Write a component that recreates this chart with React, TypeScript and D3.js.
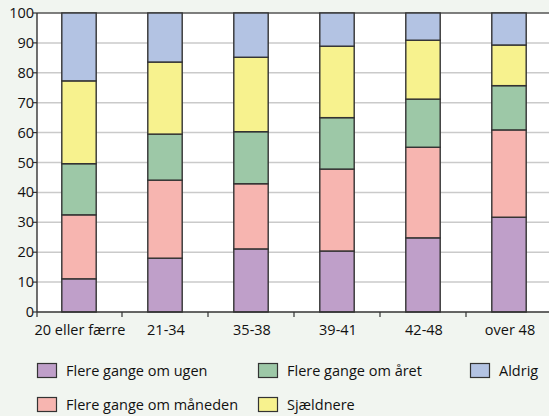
import React from "react";
import * as d3 from "d3";

const categories = ["20 eller færre", "21-34", "35-38", "39-41", "42-48", "over 48"];
const seriesNames = ["Flere gange om ugen", "Flere gange om måneden", "Flere gange om året", "Sjældnere", "Aldrig"];
const ugen = [11.1, 18.0, 21.1, 20.4, 24.8, 31.7];
const maaneden = [21.4, 26.1, 21.8, 27.4, 30.3, 29.2];
const aaret = [17.1, 15.4, 17.4, 17.2, 16.1, 14.8];
const sjaeldnere = [27.7, 24.1, 24.9, 23.9, 19.7, 13.6];
const aldrig = [22.7, 16.4, 14.8, 11.1, 9.1, 10.7];
const yTicks = [0, 10, 20, 30, 40, 50, 60, 70, 80, 90, 100];
const colors = ["#bf9fc9", "#f7b5b0", "#9dc8a7", "#f7f28e", "#b3c3e3"];

const W = 549;
const H = 416;
const left = 37;
const top = 13;
const bottom = 312;
const FONT = "'Open Sans', 'Noto Sans', sans-serif";

export default function App() {
  const rows = categories.map((c, i) => ({
    cat: c,
    s0: ugen[i],
    s1: maaneden[i],
    s2: aaret[i],
    s3: sjaeldnere[i],
    s4: aldrig[i],
  }));
  const keys = ["s0", "s1", "s2", "s3", "s4"];
  const stacked = d3.stack<any>().keys(keys)(rows);
  const x = d3.scaleBand().domain(categories).range([36, 552]).paddingInner(0.6).paddingOuter(0.3);
  const y = d3.scaleLinear().domain([0, 100]).range([bottom, top]);
  const step = x.step();
  const boundaries = categories.slice(1).map((c) => (x(c) as number) - x.paddingInner() * step / 2);

  const legendItems = [
    { name: seriesNames[0], color: colors[0], lx: 37, ly: 363 },
    { name: seriesNames[2], color: colors[2], lx: 258, ly: 363 },
    { name: seriesNames[4], color: colors[4], lx: 470, ly: 363 },
    { name: seriesNames[1], color: colors[1], lx: 37, ly: 397 },
    { name: seriesNames[3], color: colors[3], lx: 258, ly: 397 },
  ];

  return (
    <svg width={W} height={H} style={{ position: "absolute", left: 0, top: 0 }} fontFamily={FONT}>
      <rect x={0} y={0} width={W} height={H} fill="#f1f5f0" />
      <rect x={left} y={top} width={W - left} height={bottom - top} fill="#ffffff" />
      {yTicks.map((t) => (
        <g key={t}>
          {t > 0 && t < 100 && (
            <line x1={left} x2={W} y1={y(t)} y2={y(t)} stroke="#cacaca" strokeWidth={1.5} />
          )}
          <line x1={left - 4} x2={left} y1={y(t)} y2={y(t)} stroke="#333" strokeWidth={1.2} />
          <text x={34} y={y(t)} dy="0.35em" textAnchor="end" fontSize={14.5} fill="#111">
            {t}
          </text>
        </g>
      ))}
      <line x1={left} x2={W} y1={top} y2={top} stroke="#555" strokeWidth={1.3} />
      {stacked.map((s, si) =>
        s.map((d, i) => (
          <rect
            key={si + "-" + i}
            x={x(categories[i]) as number}
            y={y(d[1])}
            width={x.bandwidth()}
            height={y(d[0]) - y(d[1])}
            fill={colors[si]}
            stroke="#333"
            strokeWidth={1.4}
          />
        ))
      )}
      <line x1={left} x2={left} y1={top} y2={bottom} stroke="#333" strokeWidth={1.4} />
      <line x1={left} x2={W} y1={bottom} y2={bottom} stroke="#333" strokeWidth={1.4} />
      {boundaries.map((b, i) => (
        <line key={i} x1={b} x2={b} y1={bottom} y2={bottom + 5} stroke="#333" strokeWidth={1.2} />
      ))}
      <line x1={left} x2={left} y1={bottom} y2={bottom + 5} stroke="#333" strokeWidth={1.2} />
      {categories.map((c) => (
        <text key={c} x={(x(c) as number) + x.bandwidth() / 2 + 1} y={335} textAnchor="middle" fontSize={14.5} fill="#111">
          {c}
        </text>
      ))}
      {legendItems.map((l) => (
        <g key={l.name}>
          <rect x={l.lx + 0.5} y={l.ly + 0.5} width={19} height={14} fill={l.color} stroke="#333" strokeWidth={1.2} />
          <text x={l.lx + 29} y={l.ly + 7.5} dy="0.35em" fontSize={14.5} fill="#111">
            {l.name}
          </text>
        </g>
      ))}
    </svg>
  );
}
